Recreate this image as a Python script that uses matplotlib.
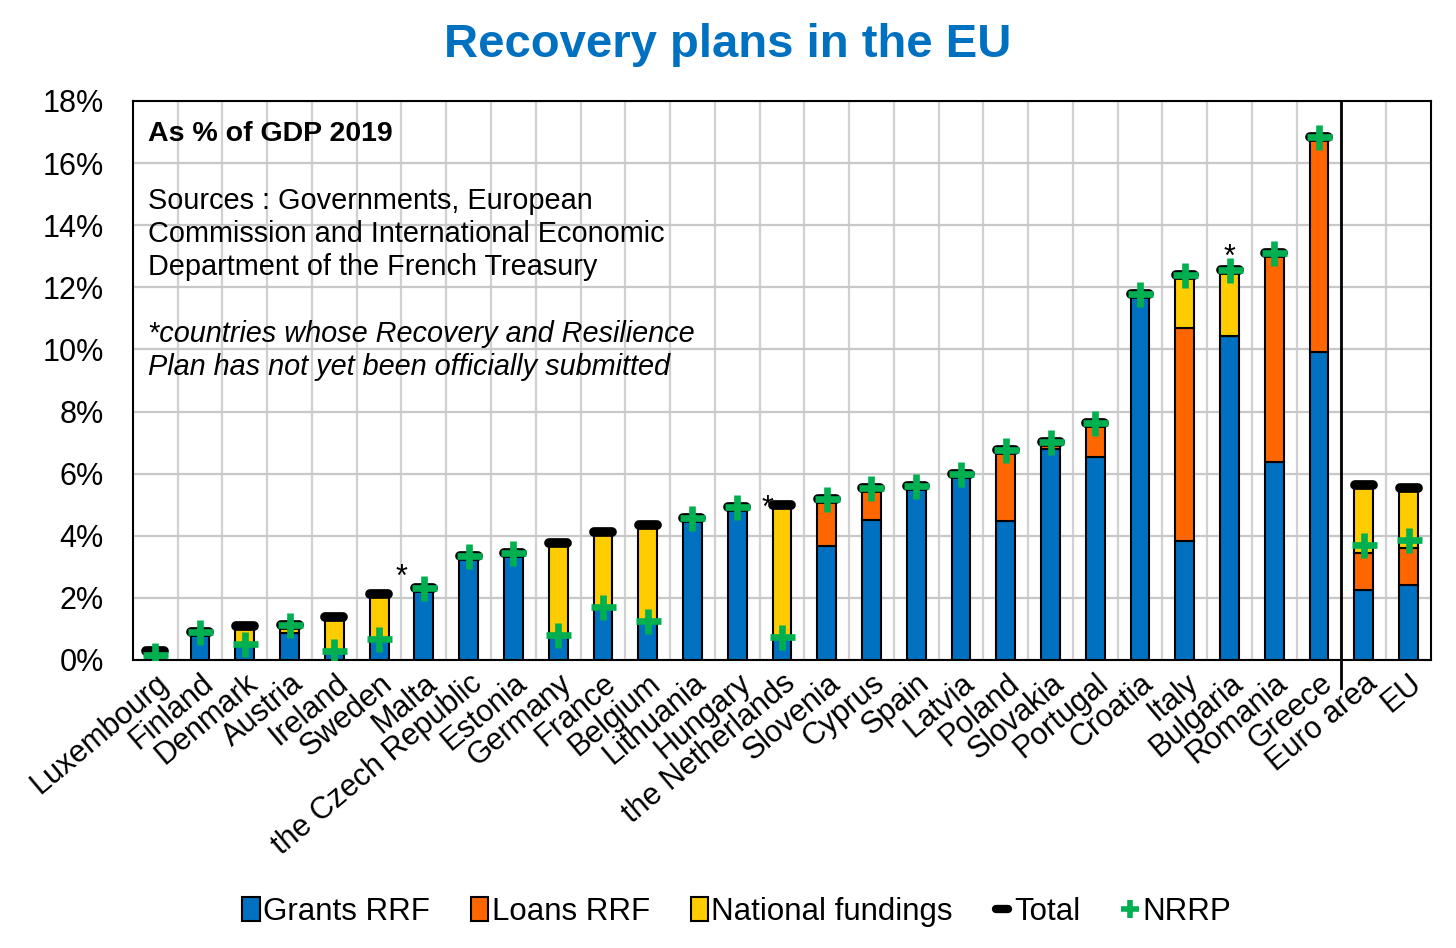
import matplotlib
matplotlib.use('Agg')
import matplotlib.pyplot as plt
from matplotlib.markers import MarkerStyle
from matplotlib.lines import Line2D
from matplotlib.patches import Patch
import numpy as np

plt.rcParams['font.family'] = ['Liberation Sans', 'DejaVu Sans']

countries = ['Luxembourg', 'Finland', 'Denmark', 'Austria', 'Ireland', 'Sweden', 'Malta',
             'the Czech Republic', 'Estonia', 'Germany', 'France', 'Belgium', 'Lithuania',
             'Hungary', 'the Netherlands', 'Slovenia', 'Cyprus', 'Spain', 'Latvia', 'Poland',
             'Slovakia', 'Portugal', 'Croatia', 'Italy', 'Bulgaria', 'Romania', 'Greece',
             'Euro area', 'EU']
grants = [0.15, 0.89, 0.50, 0.87, 0.28, 0.69, 2.33, 3.36, 3.46, 0.75, 1.65, 1.24, 4.57,
          4.94, 0.74, 3.67, 4.52, 5.59, 6.00, 4.49, 6.80, 6.54, 11.79, 3.83, 10.44, 6.39,
          9.91, 2.25, 2.41]
loans = [0, 0, 0, 0, 0, 0, 0, 0, 0, 0, 0, 0, 0, 0, 0, 1.51, 1.02, 0, 0, 2.28, 0.22, 1.09,
         0, 6.86, 0, 6.71, 6.94, 1.18, 1.19]
national = [0.15, 0, 0.60, 0.27, 1.11, 1.42, 0, 0, 0, 3.03, 2.48, 3.10, 0, 0, 4.25, 0, 0,
            0, 0, 0, 0, 0, 0, 1.72, 2.12, 0, 0, 2.20, 1.95]
total = [0.30, 0.89, 1.10, 1.14, 1.39, 2.11, 2.33, 3.36, 3.46, 3.78, 4.13, 4.34, 4.57,
         4.94, 4.99, 5.18, 5.54, 5.59, 6.00, 6.77, 7.02, 7.63, 11.79, 12.41, 12.56, 13.10,
         16.85, 5.63, 5.55]
nrrp = [0.15, 0.89, 0.52, 1.14, 0.28, 0.69, 2.33, 3.36, 3.46, 0.80, 1.70, 1.26, 4.57,
        4.94, 0.74, 5.18, 5.54, 5.59, 6.00, 6.77, 7.02, 7.63, 11.79, 12.41, 12.56, 13.10,
        16.85, 3.71, 3.86]
# countries flagged with an asterisk (plan not yet submitted)
starred = ['Malta', 'the Netherlands', 'Bulgaria']

note_lines = ['Sources : Governments, European',
              'Commission and International Economic',
              'Department of the French Treasury']
star_lines = ['*countries whose Recovery and Resilience',
              'Plan has not yet been officially submitted']

c_blue, c_orange, c_yellow, c_green = '#0070C0', '#FF6600', '#FFCC00', '#00B050'

fig = plt.figure(figsize=(14.56, 9.48), dpi=100)
ax = fig.add_axes([0.0913, 0.3038, 0.8915, 0.5897])

x = np.arange(len(countries))
g = np.array(grants)
l = np.array(loans)
n = np.array(national)
w = 0.42
ax.bar(x, g, w, color=c_blue, edgecolor='black', linewidth=1.5, zorder=3)
ax.bar(x, l, w, bottom=g, color=c_orange, edgecolor='black', linewidth=1.5, zorder=3)
ax.bar(x, n, w, bottom=g + l, color=c_yellow, edgecolor='black', linewidth=1.5, zorder=3)

cap = MarkerStyle('_', capstyle='round')
ax.plot(x, total, linestyle='none', marker=cap, markersize=13.5, markeredgewidth=7,
        color='black', zorder=4)
ax.plot(x, nrrp, linestyle='none', marker='+', markersize=18, markeredgewidth=4.8,
        color=c_green, zorder=5)

# asterisks for plans not yet submitted
star_dx = {'Malta': -0.5, 'the Netherlands': -0.33, 'Bulgaria': 0.0}
star_dy = {'Malta': 0.05, 'the Netherlands': -0.37, 'Bulgaria': 0.12}
for c in starred:
    i = countries.index(c)
    ax.text(i + star_dx[c], total[i] + star_dy[c], '*', ha='center', va='baseline',
            fontsize=22, color='black', zorder=6)

ax.set_xlim(-0.5, len(countries) - 0.5)
ax.set_ylim(0, 18)
ax.set_yticks(np.arange(0, 19, 2))
ax.set_yticklabels([f'{v}%' for v in range(0, 19, 2)], fontsize=22)
ax.set_xticks(x)
ax.set_xticklabels(countries, rotation=40, ha='right', rotation_mode='anchor', fontsize=22)
ax.set_xticks(x[:-1] + 0.5, minor=True)
ax.tick_params(axis='both', which='both', length=0)
ax.tick_params(axis='x', pad=6)
ax.tick_params(axis='y', pad=21)
ax.grid(axis='y', which='major', color='#C8C8C8', linewidth=1.6, zorder=0)
ax.grid(axis='x', which='minor', color='#D0D0D0', linewidth=1.6, zorder=0)
ax.set_axisbelow(True)
for s in ax.spines.values():
    s.set_linewidth(1.5)
    s.set_color('black')

# separator between countries and aggregates
ax.plot([26.5, 26.5], [-0.9, 18], color='black', linewidth=2, clip_on=False, zorder=6)

ax.text(0.0116, 0.941, 'As % of GDP 2019', transform=ax.transAxes, fontsize=20.5,
        fontweight='bold', va='center', ha='left', zorder=7)
for k, line in enumerate(note_lines):
    ax.text(0.0116, 0.821 - k * 0.059, line, transform=ax.transAxes, fontsize=20.8,
            va='center', ha='left', zorder=7)
for k, line in enumerate(star_lines):
    ax.text(0.0116, 0.583 - k * 0.059, line, transform=ax.transAxes, fontsize=20.8,
            style='italic', va='center', ha='left', zorder=7)

fig.text(0.5, 0.953, 'Recovery plans in the EU', ha='center', va='center', fontsize=34,
         fontweight='bold', color=c_blue)

handles = [
    Patch(facecolor=c_blue, edgecolor='black', linewidth=1.5, label='Grants RRF'),
    Patch(facecolor=c_orange, edgecolor='black', linewidth=1.5, label='Loans RRF'),
    Patch(facecolor=c_yellow, edgecolor='black', linewidth=1.5, label='National fundings'),
    Line2D([], [], linestyle='none', marker=cap, markersize=8, markeredgewidth=6,
           color='black', label='Total'),
    Line2D([], [], linestyle='none', marker='+', markersize=13, markeredgewidth=4,
           color=c_green, label='NRRP'),
]
fig.legend(handles=handles, loc='center', bbox_to_anchor=(0.506, 0.038), ncol=5,
           frameon=False, fontsize=22.5, handlelength=0.55, handleheight=0.8,
           handletextpad=0.12, columnspacing=1.3)

fig.savefig('out.png', dpi=100)
